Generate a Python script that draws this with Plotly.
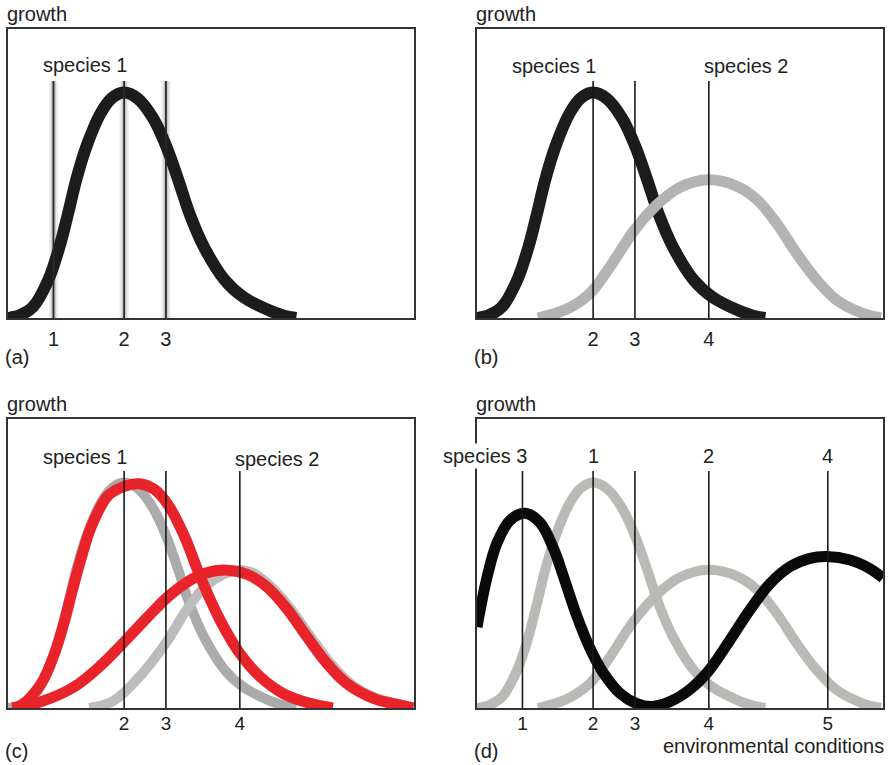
import plotly.graph_objects as go

# ---------------- data ----------------
# positions of the environmental conditions along the x axis (box width = 10 units)
cond_pos = [1.12, 2.86, 3.89, 5.71, 8.64]
cond_lab = ["1", "2", "3", "4", "5"]
line_top = 0.82

# species 1 growth curve (panel a / grey in b-d)
sp1_x = [0.0, 0.30, 0.62, 0.99, 1.27, 1.48, 1.68, 1.93, 2.28, 2.55, 2.85, 3.20, 3.58, 3.91, 4.20, 4.48, 4.83, 5.34, 5.80, 6.37, 6.80, 7.10]
sp1_y = [0.0, 0.010, 0.039, 0.131, 0.247, 0.362, 0.478, 0.593, 0.708, 0.760, 0.780, 0.759, 0.690, 0.590, 0.475, 0.358, 0.245, 0.131, 0.072, 0.030, 0.008, 0.0]

# species 2 growth curve
sp2_x = [1.50, 2.20, 2.78, 3.28, 3.85, 4.43, 5.00, 5.70, 6.40, 6.89, 7.38, 7.87, 8.37, 8.86, 9.50, 9.95]
sp2_y = [0.0, 0.030, 0.085, 0.178, 0.299, 0.392, 0.452, 0.478, 0.456, 0.410, 0.328, 0.224, 0.131, 0.062, 0.016, 0.0]

# panel c: earlier species 2 (grey, mostly under the red curve)
sp2g_x = [2.00, 2.60, 3.28, 3.89, 4.40, 4.85, 5.30, 5.65, 6.05, 6.46, 6.95, 7.45, 7.94, 8.43, 9.09, 9.75, 10.0]
sp2g_y = [0.0, 0.025, 0.115, 0.225, 0.340, 0.420, 0.462, 0.477, 0.466, 0.422, 0.345, 0.247, 0.155, 0.085, 0.033, 0.010, 0.0]

# panel c: shifted species 1 (red)
sp1c_x = [0.10, 0.33, 0.82, 1.15, 1.40, 1.60, 1.81, 2.05, 2.46, 2.85, 3.24, 3.60, 3.94, 4.35, 4.73, 5.22, 5.71, 6.21, 6.78, 7.44, 8.00]
sp1c_y = [0.0, 0.010, 0.085, 0.190, 0.305, 0.415, 0.522, 0.627, 0.734, 0.766, 0.776, 0.757, 0.704, 0.593, 0.456, 0.305, 0.189, 0.108, 0.050, 0.016, 0.0]

# panel c: shifted species 2 (red)
sp2c_x = [0.16, 0.82, 1.64, 2.30, 2.87, 3.45, 3.94, 4.43, 4.85, 5.40, 5.90, 6.37, 6.86, 7.36, 7.85, 8.34, 9.00, 9.66, 9.98]
sp2c_y = [0.0, 0.022, 0.074, 0.149, 0.230, 0.316, 0.385, 0.437, 0.466, 0.477, 0.462, 0.420, 0.345, 0.247, 0.155, 0.085, 0.033, 0.010, 0.0]

# panel d: species 3 (black)
sp3_x = [0.0, 0.25, 0.49, 0.82, 1.19, 1.56, 1.89, 2.13, 2.46, 2.79, 3.12, 3.53, 3.94, 4.30, 4.75, 5.25, 5.72, 6.23, 6.72, 7.22, 7.71, 8.20, 8.61, 9.19, 9.68, 10.0]
sp3_y = [0.28, 0.454, 0.570, 0.650, 0.674, 0.640, 0.550, 0.455, 0.318, 0.205, 0.120, 0.050, 0.015, 0.005, 0.022, 0.065, 0.131, 0.235, 0.339, 0.431, 0.489, 0.518, 0.524, 0.512, 0.482, 0.450]

# ---------------- styling ----------------
FONT = "Liberation Sans, Arial, Helvetica, sans-serif"
TXT = "#222222"
BLACK = "#1c1c1c"
GREY_B = "#b3b3b3"
GREY_C = "#ababab"
GREY_D = "#b9b9b5"
RED = "#e8232a"

W, H = 888, 765
boxes = {  # left, right, top, bottom in px
    "a": (8, 414, 29, 318),
    "b": (477, 883, 29, 318),
    "c": (8, 414, 419, 708),
    "d": (477, 883, 419, 708),
}
axid = {"a": "", "b": "2", "c": "3", "d": "4"}

fig = go.Figure()


def curve(p, xs, ys, color, width):
    fig.add_trace(go.Scatter(x=xs, y=ys, mode="lines",
                             line=dict(color=color, width=width, shape="spline", smoothing=1.0),
                             xaxis="x" + axid[p], yaxis="y" + axid[p],
                             hoverinfo="skip", showlegend=False))


def vline(p, xpos, color, width):
    fig.add_trace(go.Scatter(x=[xpos, xpos], y=[0, line_top], mode="lines",
                             line=dict(color=color, width=width),
                             xaxis="x" + axid[p], yaxis="y" + axid[p],
                             hoverinfo="skip", showlegend=False))


# panel a (soft halo behind the condition lines)
for xp in cond_pos[:3]:
    vline("a", xp, "#ececec", 9)
    vline("a", xp, "#c8c8c8", 5)
curve("a", sp1_x, sp1_y, BLACK, 12)
for xp in cond_pos[:3]:
    vline("a", xp, "#2a2a2a", 1.8)

# panel b
curve("b", sp1_x, sp1_y, BLACK, 12)
curve("b", sp2_x, sp2_y, GREY_B, 11)
for xp in cond_pos[1:4]:
    vline("b", xp, "#1a1a1a", 1.6)

# panel c
curve("c", sp1_x, sp1_y, GREY_C, 10)
curve("c", sp2g_x, sp2g_y, "#bcbcbc", 10)
curve("c", sp1c_x, sp1c_y, RED, 11)
curve("c", sp2c_x, sp2c_y, RED, 11)
for xp in cond_pos[1:4]:
    vline("c", xp, "#1a1a1a", 1.6)

# panel d
curve("d", sp1_x, sp1_y, GREY_D, 10)
curve("d", sp2_x, sp2_y, GREY_D, 10)
curve("d", sp3_x, sp3_y, "#0a0a0a", 11)
for xp in cond_pos:
    vline("d", xp, "#1a1a1a", 1.6)

tick_sets = {
    "a": (cond_pos[:3], cond_lab[:3]),
    "b": (cond_pos[1:4], cond_lab[1:4]),
    "c": (cond_pos[1:4], cond_lab[1:4]),
    "d": (cond_pos, cond_lab),
}

layout = dict(
    width=W, height=H, margin=dict(l=0, r=0, t=0, b=0),
    paper_bgcolor="white", plot_bgcolor="white",
    font=dict(family=FONT, size=20, color=TXT),
    showlegend=False,
)
annotations = []
for p, (l, r, t, b) in boxes.items():
    s = axid[p]
    tv, tt = tick_sets[p]
    upper = p in "ab"
    layout["xaxis" + s] = dict(
        domain=[l / W, r / W], range=[0, 10], anchor="y" + s,
        showgrid=False, zeroline=False, showline=True, mirror=True,
        linecolor="#333333", linewidth=1.5,
        tickmode="array", tickvals=tv, ticktext=tt,
        ticks="outside", ticklen=2 if upper else 0, tickcolor="rgba(0,0,0,0)",
        ticklabelstandoff=0 if upper else -3,
        tickfont=dict(family=FONT, size=20 if upper else 19, color=TXT), fixedrange=True,
    )
    layout["yaxis" + s] = dict(
        domain=[1 - b / H, 1 - t / H], range=[0, 1], anchor="x" + s,
        showgrid=False, zeroline=False, showline=True, mirror=True,
        linecolor="#333333", linewidth=1.5, showticklabels=False, ticks="",
        fixedrange=True,
    )
    xd = "x" + s + " domain"
    yd = "y" + s + " domain"
    annotations.append(dict(text="growth", xref=xd, yref=yd, x=0, y=1,
                            xanchor="left", yanchor="middle", xshift=-3, yshift=15,
                            showarrow=False, font=dict(size=20)))
    annotations.append(dict(text="(" + p + ")", xref=xd, yref=yd, x=0, y=0,
                            xanchor="left", yanchor="middle", xshift=-5,
                            yshift=-39 if upper else -43,
                            showarrow=False, font=dict(size=20)))

species_labels = [
    ("a", "species 1", 1.90, 0.877),
    ("b", "species 1", 1.90, 0.871),
    ("b", "species 2", 6.63, 0.871),
    ("c", "species 1", 1.92, 0.870),
    ("c", "species 2", 6.64, 0.862),
    ("d", "species 3", 0.20, 0.871),
    ("d", "1", cond_pos[1], 0.871),
    ("d", "2", cond_pos[3], 0.871),
    ("d", "4", cond_pos[4], 0.871),
]
for p, txt, xx, yy in species_labels:
    s = axid[p]
    annotations.append(dict(text=txt, xref="x" + s, yref="y" + s, x=xx, y=yy,
                            xanchor="center", yanchor="middle", showarrow=False,
                            font=dict(size=20),
                            bgcolor="white" if txt == "species 3" else None))

annotations.append(dict(text="environmental conditions", xref="x4 domain", yref="y4 domain",
                        x=1, y=0, xanchor="right", yanchor="middle", yshift=-38, xshift=3,
                        showarrow=False, font=dict(size=20)))
layout["annotations"] = annotations
fig.update_layout(**layout)

fig.write_html("out.html", config={"displayModeBar": False},
               post_script="document.body.style.margin='0';document.body.style.overflow='hidden';")
